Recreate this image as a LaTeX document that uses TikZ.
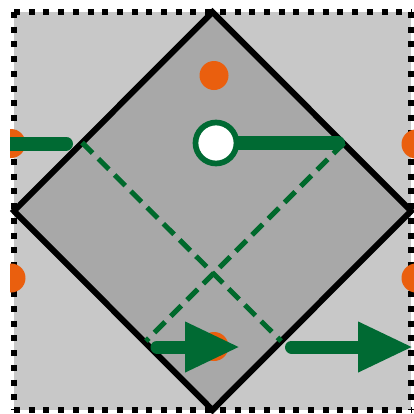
\documentclass[tikz,border=0pt]{standalone}
\usetikzlibrary{arrows.meta}
\definecolor{bglight}{HTML}{C8C8C8}
\definecolor{diagray}{HTML}{A8A8A8}
\definecolor{dotorange}{HTML}{EA5F0E}
\definecolor{pathgreen}{HTML}{006A33}
\definecolor{dashgreen}{HTML}{00692C}
\tikzset{
  border/.style={draw=black, line width=6pt, dash pattern=on 6pt off 8.7pt},
  diamondbox/.style={draw=black, fill=diagray, line width=6pt, line join=miter},
  dot/.style={fill=dotorange},
  dashline/.style={draw=dashgreen, line width=5pt, dash pattern=on 15pt off 8pt},
  thickpath/.style={draw=pathgreen, line width=14pt, line cap=round},
  arrowpath/.style={draw=pathgreen, line width=13pt, line cap=round,
    -{Triangle[length=55pt,width=47pt]}},
  ring/.style={draw=pathgreen, fill=white, line width=5.7pt}
}
\begin{document}
\begin{tikzpicture}[x=1pt,y=-1pt]
\useasboundingbox (0,0) rectangle (414,413);
% background tile
\fill[bglight] (14,12) rectangle (411,410);
\draw[border] (14,12) -- (411,12);
\draw[border] (14,12) -- (14,410);
\draw[border] (14,410) -- (411,410);
\draw[border] (411,12) -- (411,410);
% diamond
\coordinate (dt) at (212.5,12);
\coordinate (dr) at (411,211);
\coordinate (db) at (212.5,410);
\coordinate (dl) at (14,211);
\draw[diamondbox] (dt) -- (dr) -- (db) -- (dl) -- cycle;
% dashed lines
\coordinate (a1) at (82,142.5);
\coordinate (a2) at (281,341);
\coordinate (b1) at (344,143);
\coordinate (b2) at (146,341);
\draw[dashline] (a1) -- (a2);
\draw[dashline] (b1) -- (b2);
% orange dots and left line, clipped to tile
\begin{scope}
\clip (10,8) rectangle (414,413);
\fill[dot] (214,75.5) circle (14.5);
\fill[dot] (214,346.5) circle (14.5);
\fill[dot] (11,143.5) circle (14.5);
\fill[dot] (11,278) circle (14.5);
\fill[dot] (416,144) circle (14.5);
\fill[dot] (416,278) circle (14.5);
\coordinate (l0) at (0,143.5);
\coordinate (l1) at (66,143.5);
\draw[thickpath] (l0) -- (l1);
\end{scope}
% right line with ring
\coordinate (rc) at (216,143);
\coordinate (r1) at (338,143);
\draw[thickpath] (rc) -- (r1);
\node[ring, circle, minimum size=41pt, inner sep=0pt] (ringnode) at (rc) {};
% arrows
\coordinate (p0) at (157,347);
\coordinate (p1) at (240,347);
\coordinate (q0) at (291.5,347);
\coordinate (q1) at (413,347);
\draw[arrowpath] (p0) -- (p1);
\draw[arrowpath] (q0) -- (q1);
\end{tikzpicture}
\end{document}
